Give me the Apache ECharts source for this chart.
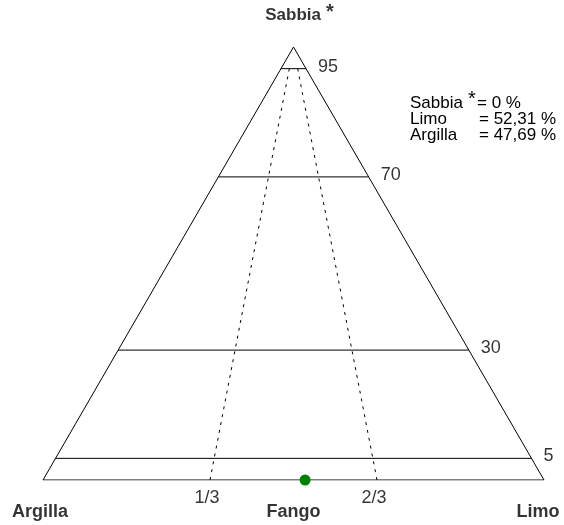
<!DOCTYPE html>
<html>
<head>
<meta charset="utf-8">
<script src="https://cdn.jsdelivr.net/npm/echarts@6/dist/echarts.min.js"></script>
<style>
  html, body { margin: 0; padding: 0; background: #fff; }
  #main { width: 564px; height: 525px; }
</style>
</head>
<body>
<div id="main"></div>
<script>
// livelli di sabbia (%) e rapporti limo/fango
var sandLevels = [95, 70, 30, 5];
var ratioLines = [1 / 3, 2 / 3];
var ratioLabels = ['1/3', '2/3'];
var vertexNames = ['Sabbia', 'Argilla', 'Limo', 'Fango'];
// campione: sabbia, limo, argilla
var sampleSabbia = 0;
var sampleLimo = 52.31;
var sampleArgilla = 47.69;

var S3 = Math.sqrt(3) / 2;
// sabbia in alto, argilla a sinistra, limo a destra
function toXY(sabbia, limo) {
    return [limo + sabbia / 2, sabbia * S3];
}
function fmt(v) {
    return String(v).replace('.', ',');
}

var font = 'Liberation Sans';
var series = [];

// contorno
series.push({
    type: 'line',
    silent: true,
    data: [toXY(0, 0), toXY(0, 100), toXY(100, 0), toXY(0, 0)],
    symbol: 'none',
    lineStyle: { color: '#000', width: 1 }
});

// linee orizzontali della sabbia
sandLevels.forEach(function (s) {
    series.push({
        type: 'line',
        silent: true,
        data: [toXY(s, 0), toXY(s, 100 - s)],
        symbol: 'none',
        lineStyle: { color: '#000', width: 1 }
    });
});

// linee tratteggiate dei rapporti
ratioLines.forEach(function (r) {
    series.push({
        type: 'line',
        silent: true,
        data: [toXY(0, 100 * r), toXY(95, 5 * r)],
        symbol: 'none',
        lineStyle: { color: '#000', width: 1, type: [3, 5] }
    });
});

// etichette livelli
series.push({
    type: 'scatter',
    silent: true,
    symbolSize: 0,
    data: sandLevels.map(function (s) {
        return toXY(s, 100 - s).concat([s]);
    }),
    label: {
        show: true,
        position: 'right',
        offset: [7, -2],
        formatter: function (p) { return p.value[2]; },
        color: '#000',
        fontFamily: font,
        fontSize: 18
    }
});

// etichette rapporti
series.push({
    type: 'scatter',
    silent: true,
    symbolSize: 0,
    data: ratioLines.map(function (r, i) {
        return toXY(0, 100 * r).concat([ratioLabels[i]]);
    }),
    label: {
        show: true,
        position: 'bottom',
        offset: [-3, 4],
        formatter: function (p) { return p.value[2]; },
        color: '#000',
        fontFamily: font,
        fontSize: 18
    }
});

// vertici
series.push({
    type: 'scatter',
    silent: true,
    symbolSize: 0,
    data: [
        { value: toXY(100, 0), name: vertexNames[0],
          label: { position: 'top', offset: [6, -14],
                   formatter: '{a|' + vertexNames[0] + '} {s|*}',
                   rich: { a: { fontFamily: font, fontSize: 17, fontWeight: 'bold', color: '#000' },
                           s: { fontFamily: font, fontSize: 20, fontWeight: 'bold', color: '#000', padding: [0, 0, 6, 0] } } } },
        { value: toXY(0, 0), name: vertexNames[1], label: { position: 'bottom', offset: [-3, 18] } },
        { value: toXY(0, 100), name: vertexNames[2], label: { position: 'bottom', offset: [-6, 18] } },
        { value: toXY(0, 50), name: vertexNames[3], label: { position: 'bottom', offset: [0, 18] } }
    ],
    label: {
        show: true,
        formatter: '{b}',
        color: '#000',
        fontFamily: font,
        fontSize: 18,
        fontWeight: 'bold'
    }
});

// campione
series.push({
    type: 'scatter',
    silent: true,
    symbol: 'circle',
    symbolSize: 11,
    data: [toXY(sampleSabbia, sampleLimo)],
    itemStyle: { color: '#008000', opacity: 1 },
    z: 5
});

var infoStyle = { fontFamily: font, fontSize: 17, fill: '#000' };

var option = {
    animation: false,
    backgroundColor: '#fff',
    grid: { left: 43, top: 47, width: 501, height: 433 },
    xAxis: { type: 'value', min: 0, max: 100, show: false },
    yAxis: { type: 'value', min: 0, max: 100 * S3, show: false },
    graphic: [
        { type: 'text', left: 410, top: 95, style: Object.assign({ text: 'Sabbia' }, infoStyle) },
        { type: 'text', left: 468, top: 89, style: Object.assign({ text: '*' }, infoStyle, { fontSize: 20 }) },
        { type: 'text', left: 477, top: 95, style: Object.assign({ text: '= ' + fmt(sampleSabbia) + ' %' }, infoStyle) },
        { type: 'text', left: 410, top: 111, style: Object.assign({ text: 'Limo' }, infoStyle) },
        { type: 'text', left: 479, top: 111, style: Object.assign({ text: '= ' + fmt(sampleLimo) + ' %' }, infoStyle) },
        { type: 'text', left: 410, top: 127, style: Object.assign({ text: 'Argilla' }, infoStyle) },
        { type: 'text', left: 479, top: 127, style: Object.assign({ text: '= ' + fmt(sampleArgilla) + ' %' }, infoStyle) }
    ],
    series: series
};

var myChart = echarts.init(document.getElementById('main'));
myChart.setOption(option);
</script>
</body>
</html>
